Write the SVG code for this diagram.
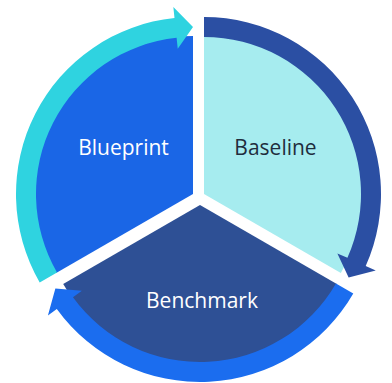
<svg xmlns="http://www.w3.org/2000/svg" width="392" height="383" viewBox="0 0 392 383">
  <style>
    .lbl { font-family: "Open Sans", "Liberation Sans", sans-serif; font-size: 21px; text-anchor: middle; }
    .light { fill: #ffffff; }
    .dark { fill: #1f2d3d; }
  </style>
  <rect width="392" height="383" fill="#ffffff"/>
  <g id="blueprint">
    <path d="M193,194 L56.17,273 A158,158 0 0 1 193,36 Z" fill="#1a66e6"/>
    <text class="lbl light" x="123.5" y="155">Blueprint</text>
  </g>
  <g id="baseline">
    <path d="M204,194 L204,36 A158,158 0 0 1 340.83,273 Z" fill="#a6ecef"/>
    <text class="lbl dark" x="275.5" y="155">Baseline</text>
  </g>
  <g id="benchmark">
    <path d="M200,205 L336.83,284 A158,158 0 0 1 63.17,284 Z" fill="#2e5095"/>
    <text class="lbl light" x="202" y="308">Benchmark</text>
  </g>
  <g id="connectors">
    <path d="M39.71,282.5 A177,177 0 0 1 174.5,17.97 L173.35,7.03 L193,27 L177.74,48.8 L176.59,37.86 A157,157 0 0 0 57.03,272.5 Z" fill="#2fd3e0"/>
    <path d="M204,17 A177,177 0 0 1 365.7,265.99 L375.75,270.47 L348.63,277.5 L337.38,253.38 L347.43,257.86 A157,157 0 0 0 204,37 Z" fill="#2b4fa3"/>
    <path d="M353.29,293.5 A177,177 0 0 1 56.8,309.04 L47.9,315.5 L55.37,288.5 L81.88,290.82 L72.98,297.28 A157,157 0 0 0 335.97,283.5 Z" fill="#1b6def"/>
  </g>
</svg>
